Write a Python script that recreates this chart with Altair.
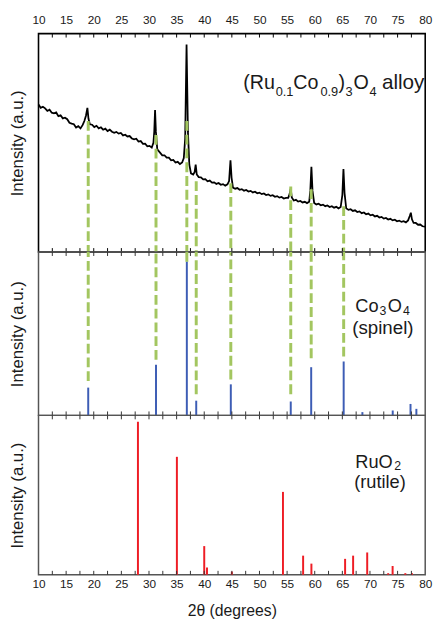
import altair as alt
import pandas as pd

# ---------------- data ----------------
XRD_X = [10.0, 10.4, 10.8, 11.2, 11.6, 12.0, 12.4, 12.8, 13.2, 13.6, 14.0, 14.4, 14.8, 15.2, 15.6,
         16.0, 16.4, 16.8, 17.2, 17.6, 18.0, 18.3, 18.6, 18.85, 19.05, 19.3, 19.7, 20.1, 20.5, 20.9,
         21.3, 21.7, 22.1, 22.5, 22.9, 23.3, 23.7, 24.1, 24.5, 24.9, 25.3, 25.7, 26.1, 26.5, 26.9,
         27.3, 27.7, 28.1, 28.5, 28.9, 29.3, 29.7, 30.1, 30.5, 30.8, 30.95, 31.1, 31.25, 31.5, 32.0,
         32.4, 32.8, 33.2, 33.6, 34.0, 34.4, 34.8, 35.2, 35.6, 36.0, 36.3, 36.55, 36.8, 37.05, 37.3,
         37.6, 38.0, 38.25, 38.45, 38.65, 39.0, 39.4, 39.8, 40.2, 40.6, 41.0, 41.4, 41.8, 42.2, 42.6,
         43.0, 43.4, 43.8, 44.2, 44.5, 44.75, 44.95, 45.2, 45.6, 46.0, 46.4, 46.8, 47.2, 47.6, 48.0,
         48.4, 48.8, 49.2, 49.6, 50.0, 50.4, 50.8, 51.2, 51.6, 52.0, 52.4, 52.8, 53.2, 53.6, 54.0,
         54.4, 54.8, 55.2, 55.45, 55.65, 55.85, 56.2, 56.6, 57.0, 57.4, 57.8, 58.2, 58.6, 59.0,
         59.2, 59.4, 59.6, 59.9, 60.3, 60.7, 61.1, 61.5, 61.9, 62.3, 62.7, 63.1, 63.5, 63.9, 64.3,
         64.7, 65.0, 65.2, 65.4, 65.7, 66.1, 66.5, 66.9, 67.3, 67.7, 68.1, 68.5, 68.9, 69.3, 69.7,
         70.1, 70.5, 70.9, 71.3, 71.7, 72.1, 72.5, 72.9, 73.3, 73.7, 74.1, 74.5, 74.9, 75.3, 75.7,
         76.1, 76.5, 76.9, 77.2, 77.4, 77.6, 77.9, 78.3, 78.7, 79.1, 79.5, 80.0]
XRD_Y = [67.5, 66.0, 66.5, 65.8, 64.6, 65.2, 63.8, 63.5, 63.9, 62.2, 62.6, 61.2, 61.5, 60.8, 59.2,
         58.8, 58.5, 57.0, 57.6, 56.6, 58.2, 60.0, 62.5, 66.0, 61.0, 58.5, 58.3, 57.2, 57.8, 56.6,
         57.1, 56.0, 56.5, 55.4, 56.0, 55.1, 54.6, 55.0, 54.2, 54.5, 53.4, 53.7, 52.9, 53.1, 52.0,
         51.6, 51.9, 50.6, 50.8, 49.5, 49.6, 48.4, 48.6, 47.8, 50.0, 55.0, 65.0, 55.0, 47.0, 45.5,
         44.3, 44.3, 43.2, 43.2, 42.0, 42.2, 41.0, 41.3, 40.3, 41.0, 43.0, 52.0, 95.0, 55.0, 40.0,
         36.0, 35.5, 36.5, 40.0, 35.5, 34.3, 34.2, 33.3, 33.4, 32.4, 32.7, 31.8, 31.9, 31.2, 31.6,
         30.8, 31.1, 30.4, 31.0, 32.5, 42.0, 34.0, 29.5, 29.0, 29.3, 28.5, 28.8, 28.1, 28.4, 27.7,
         28.0, 27.3, 27.6, 26.9, 27.2, 26.5, 26.8, 26.1, 26.4, 25.7, 26.0, 25.3, 25.6, 24.9, 25.2,
         24.5, 24.8, 24.8, 26.5, 29.0, 25.0, 23.6, 23.9, 23.1, 23.4, 22.7, 23.0, 22.4, 23.0,
         28.0, 39.0, 28.0, 22.5, 21.8, 22.1, 21.4, 21.7, 21.0, 21.3, 20.6, 21.0, 20.3, 20.7, 20.0,
         20.6, 26.0, 38.0, 27.0, 20.0, 19.3, 19.6, 18.8, 19.1, 18.3, 18.6, 17.8, 18.1, 17.3, 17.6,
         16.8, 17.1, 16.3, 16.6, 15.8, 16.1, 15.3, 15.6, 14.9, 15.2, 14.5, 14.8, 14.1, 14.4, 13.8,
         14.1, 13.6, 14.5, 16.5, 18.0, 15.0, 13.3, 13.3, 12.5, 12.6, 11.8, 11.6]

CO_POS = [19.0, 31.27, 36.85, 38.55, 44.81, 55.66, 59.36, 65.24, 68.63, 74.12, 77.34, 78.4]
CO_INT = [17, 31, 94, 9, 19, 8.5, 29.5, 33, 2, 3, 7, 4]

RU_POS = [28.0, 35.05, 40.0, 40.5, 45.0, 54.25, 57.9, 59.4, 65.5, 66.95, 69.5, 73.3, 74.1, 76.4, 77.6]
RU_INT = [96, 74, 18, 4.5, 2, 52, 12, 7, 10, 12, 14, 1, 5.5, 1, 1]

GUIDE_X = [19.0, 31.27, 36.85, 38.55, 44.81, 55.66, 59.36, 65.24]
GUIDE_TOP_START = [60, 53.6, 60, 32.4, 31.5, 30, 28.8, 21]
GUIDE_MID_END = [21, 34, 94, 13, 22, 13, 35, 36]

AXIS_LABELS = [10, 15, 20, 25, 30, 35, 40, 45, 50, 55, 60, 65, 70, 75, 80]
TICKS = [12.5, 15, 17.5, 20, 22.5, 25, 27.5, 30, 32.5, 35, 37.5, 40, 42.5, 45, 47.5,
         50, 52.5, 55, 57.5, 60, 62.5, 65, 67.5, 70, 72.5, 75, 77.5]

Y_TITLE = "Intensity (a.u.)"
X_TITLE = "2θ (degrees)"

# ---------------- styling ----------------
W = 393
H_TOP, H_MID, H_BOT = 222, 166, 162
FONT = "Liberation Sans"
TXT = "#1a1a1a"
GREEN = "#a3c660"
BLUE = "#3d5db5"
RED = "#ee1d25"

xscale = alt.Scale(domain=[10, 80], nice=False, zero=False)
yscale = alt.Scale(domain=[0, 100], nice=False, zero=False)

yaxis = alt.Axis(title=Y_TITLE, labels=False, ticks=False, domain=False, grid=False,
                 titleFontSize=17, titleFont=FONT, titleFontWeight="normal",
                 titleColor=TXT, titlePadding=12)


def xaxis(orient, title=None, pad=4):
    kw = dict(orient=orient, values=AXIS_LABELS, labelFontSize=12, labelFont=FONT,
              labelColor=TXT, ticks=False, tickSize=0, domain=False, grid=False,
              labelPadding=pad, labelFlush=False, format="d")
    if title is not None:
        kw.update(title=title, titleFontSize=16, titleFont=FONT, titleFontWeight="normal",
                  titleColor=TXT, titlePadding=13)
    else:
        kw.update(title=None)
    return alt.Axis(**kw)


def tick_layers(ax, h, top=True, bottom=True, color="#333"):
    df = pd.DataFrame({"x": TICKS})
    out = []
    if top:
        out.append(alt.Chart(df).mark_rule(color=color, strokeWidth=1).encode(
            x=alt.X("x:Q", scale=xscale, axis=ax), y=alt.value(0), y2=alt.value(4)))
    if bottom:
        out.append(alt.Chart(df).mark_rule(color=color, strokeWidth=1).encode(
            x=alt.X("x:Q", scale=xscale, axis=ax), y=alt.value(h), y2=alt.value(h - 4)))
    return out


def piece(text, px, py, size, align="left"):
    return alt.Chart(alt.Data(values=[{}])).mark_text(
        text=text, font=FONT, fontSize=size, color=TXT, align=align, baseline="alphabetic"
    ).encode(x=alt.value(px), y=alt.value(py))


# ---------------- top panel: measured pattern ----------------
top_ax = xaxis("top", pad=7)
xrd = pd.DataFrame({"x": XRD_X, "y": XRD_Y})
guides_top = pd.DataFrame({"x": GUIDE_X, "y": GUIDE_TOP_START})

line = alt.Chart(xrd).mark_line(color="black", strokeWidth=1.8).encode(
    x=alt.X("x:Q", scale=xscale, axis=top_ax),
    y=alt.Y("y:Q", scale=yscale, axis=yaxis),
)
gtop = alt.Chart(guides_top).mark_rule(color=GREEN, strokeWidth=3, strokeDash=[10, 4]).encode(
    x=alt.X("x:Q", scale=xscale, axis=top_ax),
    y=alt.Y("y:Q", scale=yscale, axis=yaxis),
    y2=alt.value(H_TOP),
)
alloy = [
    piece("(Ru", 208, 56.7, 20),
    piece("0.1", 241, 63, 13),
    piece("Co", 259, 56.7, 20),
    piece("0.9", 286.5, 63, 13),
    piece(")", 305, 56.7, 20),
    piece("3", 312, 63, 13),
    piece("O", 320, 56.7, 20),
    piece("4", 336.5, 63, 13),
    piece("alloy", 349, 56.7, 21),
]
top = alt.layer(line, gtop, *tick_layers(top_ax, H_TOP, color="black"), *alloy).properties(
    width=W, height=H_TOP, view=alt.ViewBackground(stroke="black", strokeWidth=1.6))

# ---------------- middle panel: Co3O4 reference ----------------
mid_guides = pd.DataFrame({"x": GUIDE_X, "y": GUIDE_MID_END})
co = pd.DataFrame({"x": CO_POS, "y": CO_INT})
gmid = alt.Chart(mid_guides).mark_rule(color=GREEN, strokeWidth=3, strokeDash=[10, 4]).encode(
    x=alt.X("x:Q", scale=xscale, axis=None),
    y=alt.Y("y:Q", scale=yscale, axis=yaxis),
    y2=alt.value(0),
)
co_sticks = alt.Chart(co).mark_rule(color=BLUE, strokeWidth=2).encode(
    x=alt.X("x:Q", scale=xscale, axis=None),
    y=alt.Y("y:Q", scale=yscale, axis=yaxis),
    y2=alt.value(H_MID),
)
co_label = [
    piece("Co", 322, 60.5, 18.5),
    piece("3", 346.5, 63.5, 12.5),
    piece("O", 355, 60.5, 18.5),
    piece("4", 370.5, 63.5, 12.5),
    piece("(spinel)", 350, 83, 19, align="center"),
]
mid = alt.layer(gmid, co_sticks, *tick_layers(None, H_MID), *co_label).properties(
    width=W, height=H_MID, view=alt.ViewBackground(stroke="#555", strokeWidth=1.5))

# ---------------- bottom panel: RuO2 reference ----------------
bot_ax = xaxis("bottom", title=X_TITLE, pad=4)
ru = pd.DataFrame({"x": RU_POS, "y": RU_INT})
ru_sticks = alt.Chart(ru).mark_rule(color=RED, strokeWidth=2).encode(
    x=alt.X("x:Q", scale=xscale, axis=bot_ax),
    y=alt.Y("y:Q", scale=yscale, axis=yaxis),
    y2=alt.value(H_BOT),
)
ru_label = [
    piece("RuO", 322, 53.2, 18.5),
    piece("2", 361.5, 55.5, 12.5),
    piece("(rutile)", 347, 74, 18.5, align="center"),
]
bot = alt.layer(ru_sticks, *tick_layers(bot_ax, H_BOT), *ru_label).properties(
    width=W, height=H_BOT, view=alt.ViewBackground(stroke="#555", strokeWidth=1.5))

chart = alt.vconcat(top, mid, bot, spacing=0, bounds="flush").properties(
    padding={"left": 0, "top": 0, "right": 5, "bottom": 0}
).configure_view(stroke=None)

chart.save("out.html", embed_options={"renderer": "svg", "actions": False})
